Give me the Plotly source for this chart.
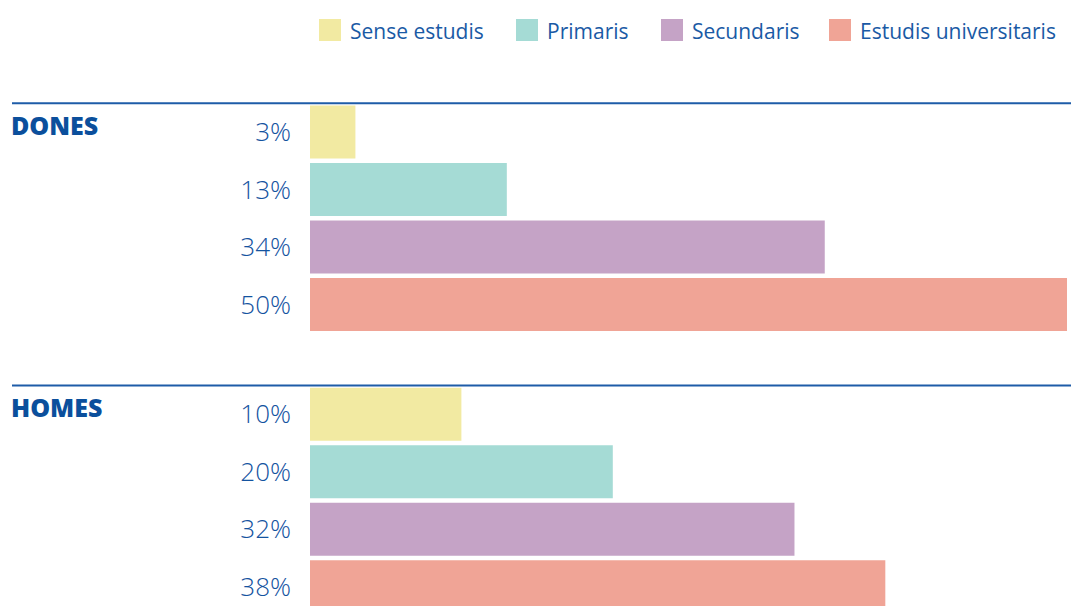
import plotly.graph_objects as go

# ---- data ----
categories = ["Sense estudis", "Primaris", "Secundaris", "Estudis universitaris"]
groups = ["DONES", "HOMES"]
dones = [3, 13, 34, 50]
homes = [10, 20, 32, 38]
colors = ["#f2eaa2", "#a5dbd5", "#c5a3c6", "#f0a496"]

values = [dones, homes]

# ---- layout constants ----
W, H = 1071, 606
PL, PR = 310, 4          # plot left / right margin (px)
PT = 80                  # plot top (px)
Y0, PITCH = 132, 57.5    # px centre of first bar, px per unit
GROUP_STEP = 4.91        # units between group starts
TEXT_BLUE = "#1a5aa5"
TICK_BLUE = "#14539f"
DARK_BLUE = "#0b4f9c"
LINE_BLUE = "#1e5ca8"
FONT = "'Open Sans', Lato, sans-serif"

def pos(g, i):
    return g * GROUP_STEP + i

def px2paper(px):
    return (px - PL) / (W - PL - PR)

fig = go.Figure()
for i, cat in enumerate(categories):
    fig.add_trace(go.Bar(
        x=[values[g][i] for g in range(len(groups))],
        y=[pos(g, i) for g in range(len(groups))],
        orientation="h",
        width=53 / PITCH,
        marker=dict(color=colors[i], line=dict(width=0)),
        name=cat,
        showlegend=False,
        hoverinfo="x",
    ))

tickvals, ticktext = [], []
for g in range(len(groups)):
    for i in range(len(categories)):
        tickvals.append(pos(g, i))
        ticktext.append(f"{values[g][i]}%")

shapes, annotations = [], []
# group separator lines and labels
for g, name in enumerate(groups):
    yl = pos(g, 0) - 0.5
    shapes.append(dict(type="line", xref="paper", yref="y",
                       x0=px2paper(12), x1=px2paper(1071), y0=yl, y1=yl,
                       line=dict(color=LINE_BLUE, width=2)))
    annotations.append(dict(text=name, xref="paper", yref="y",
                            x=px2paper(9), y=pos(g, 0), xanchor="left", yanchor="middle",
                            yshift=7, showarrow=False,
                            font=dict(family=FONT, size=25, weight=800, color=DARK_BLUE)))

# manual legend
leg_sq_x = [319, 516, 661, 829]
for i, cat in enumerate(categories):
    x0 = leg_sq_x[i]
    shapes.append(dict(type="rect", xref="paper", yref="paper",
                       x0=px2paper(x0), x1=px2paper(x0 + 22),
                       y0=(H - 41) / (H - PT), y1=(H - 19) / (H - PT),
                       fillcolor=colors[i], line=dict(width=0)))
    annotations.append(dict(text=cat, xref="paper", yref="paper",
                            x=px2paper(x0 + 29), y=(H - 31) / (H - PT),
                            xanchor="left", yanchor="middle", showarrow=False,
                            font=dict(family=FONT, size=21, weight=400, color=TEXT_BLUE)))

fig.update_layout(
    width=W, height=H,
    margin=dict(l=PL, r=PR, t=PT, b=0, pad=0),
    paper_bgcolor="white", plot_bgcolor="white",
    barmode="overlay",
    shapes=shapes, annotations=annotations,
    xaxis=dict(range=[0, 50], visible=False, fixedrange=True),
    yaxis=dict(range=[(H - Y0) / PITCH, (PT - Y0) / PITCH],
               tickmode="array", tickvals=tickvals, ticktext=ticktext,
               showgrid=False, zeroline=False, showline=False, ticks="",
               ticklabelstandoff=18,
               tickfont=dict(family=FONT, size=26, weight=350, color=TICK_BLUE)),
    showlegend=False,
)

fig.write_html("out.html", post_script="document.body.style.margin='0';",
               config={"displayModeBar": False})
